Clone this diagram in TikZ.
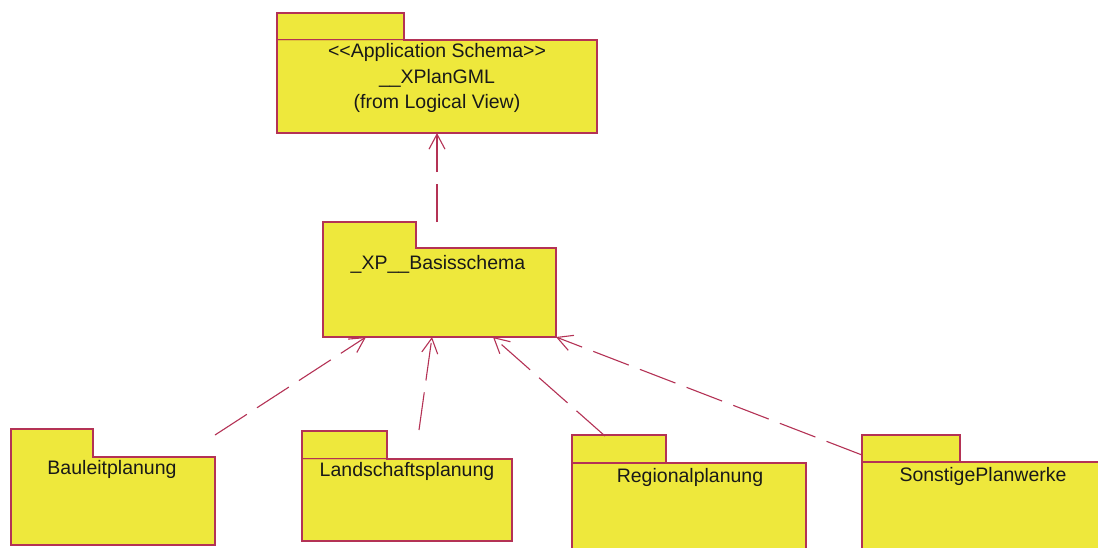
\documentclass[tikz,border=0pt]{standalone}
\usepackage{fontspec}
\setmainfont{Liberation Sans}
\usetikzlibrary{arrows.meta,calc}
\definecolor{pkgfill}{RGB}{238,232,60}
\definecolor{pkgline}{RGB}{180,50,85}
\definecolor{seam}{RGB}{225,195,60}
\begin{document}
\begin{tikzpicture}[x=1pt,y=-1pt,
  pkgbody/.style={draw=pkgline, fill=pkgfill, line width=1.2pt, rectangle, anchor=north west, inner sep=0pt, outer sep=0pt},
  pkgtab/.style={draw=pkgline, fill=pkgfill, line width=1.2pt, rectangle, anchor=south west, inner sep=0pt, outer sep=0pt},
  lbl/.style={font=\fontsize{19.5}{25.5}\selectfont, text=black!90, align=center, inner sep=0pt},
  dep/.style={draw=pkgline, line width=1.1pt, dash pattern=on 38pt off 12pt, -{Straight Barb[length=15pt,width=16pt]}}]
\useasboundingbox (0,0) rectangle (1098,547);
\clip (0,0) rectangle (1098,547);
\fill[white] (0,0) rectangle (1098,547);

% top package
\node[pkgbody, minimum width=320pt, minimum height=93pt] (top) at (277,40) {};
\node[pkgtab, minimum width=127pt, minimum height=27pt] (toptab) at (top.north west) {};
\draw[seam, line width=0.8pt] ([xshift=0.6pt]toptab.south west) -- ([xshift=-0.6pt]toptab.south east);
\node[lbl] (toplbl) at (437,78) {<{}<Application Schema>{}>\\\_\_XPlanGML\\(from Logical View)};

% basis package
\node[pkgbody, minimum width=233pt, minimum height=89pt] (basis) at (323,248) {};
\node[pkgtab, minimum width=93pt, minimum height=26pt] (basistab) at (basis.north west) {};
\fill[pkgfill] ([xshift=0.7pt,yshift=-0.7pt]basistab.south west) rectangle ([xshift=-0.7pt,yshift=0.7pt]basistab.south east);
\node[lbl] (basislbl) at (438,264) {\_XP\_\_Basisschema};

% Bauleitplanung
\node[pkgbody, minimum width=204pt, minimum height=88pt] (bau) at (11,457) {};
\node[pkgtab, minimum width=82pt, minimum height=28pt] (bautab) at (bau.north west) {};
\fill[pkgfill] ([xshift=0.7pt,yshift=-0.7pt]bautab.south west) rectangle ([xshift=-0.7pt,yshift=0.7pt]bautab.south east);
\node[lbl] (baulbl) at (112,469) {Bauleitplanung};

% Landschaftsplanung
\node[pkgbody, minimum width=210pt, minimum height=82pt] (land) at (302,459) {};
\node[pkgtab, minimum width=85pt, minimum height=28pt] (landtab) at (land.north west) {};
\draw[seam, line width=0.8pt] ([xshift=0.6pt]landtab.south west) -- ([xshift=-0.6pt]landtab.south east);
\node[lbl] (landlbl) at (407,471) {Landschaftsplanung};

% Regionalplanung
\node[pkgbody, minimum width=234pt, minimum height=95pt] (reg) at (572,463) {};
\node[pkgtab, minimum width=94pt, minimum height=28pt] (regtab) at (reg.north west) {};
\node[lbl] (reglbl) at (690,477) {Regionalplanung};

% SonstigePlanwerke
\node[pkgbody, minimum width=260pt, minimum height=95pt] (son) at (862,462) {};
\node[pkgtab, minimum width=98pt, minimum height=27pt] (sontab) at (son.north west) {};
\node[lbl] (sonlbl) at (983,476) {SonstigePlanwerke};

% dependency connectors
\coordinate (s0) at (437,222);
\coordinate (s1) at (215,435);
\coordinate (s2) at (419,430);
\coordinate (s3) at (605,436);
\coordinate (s4) at ($(sontab.south west)+(0,-7)$);
\draw[dep] (s0) -- (top.south);
\draw[dep] (s1) -- ($(basis.south west)+(43,0)$);
\draw[dep] (s2) -- ($(basis.south west)+(109,0)$);
\draw[dep] (s3) -- ($(basis.south west)+(170,0)$);
\draw[dep] (s4) -- (basis.south east);
\end{tikzpicture}
\end{document}
